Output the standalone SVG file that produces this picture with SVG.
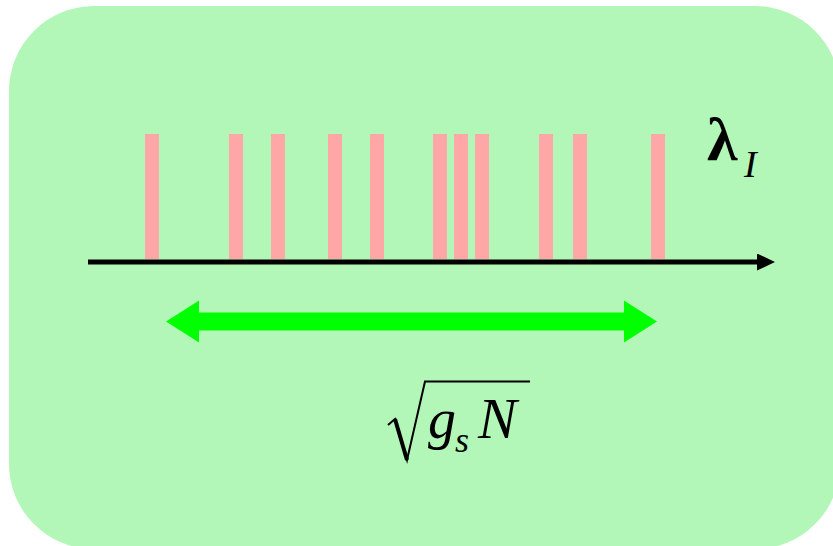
<svg xmlns="http://www.w3.org/2000/svg" width="833" height="546" viewBox="0 0 833 546">
<style>
.bar{fill:#ffa6a6}
.m{font-family:'Liberation Serif','Times New Roman','DejaVu Serif',serif}
</style>
<defs>
<marker id="ah" viewBox="0 0 18 17" refX="0" refY="8.5" markerWidth="18" markerHeight="17" markerUnits="userSpaceOnUse" orient="auto">
<path d="M0,0 L18,8.5 L0,17 Z" fill="#000"/>
</marker>
</defs>
<rect id="panel" x="9" y="6" width="831" height="543" rx="85" ry="85" fill="#b3f7b8"/>
<g id="bars">
<rect class="bar" x="145" y="134" width="14" height="125"/>
<rect class="bar" x="229" y="134" width="14" height="125"/>
<rect class="bar" x="271" y="134" width="14" height="125"/>
<rect class="bar" x="328" y="134" width="14" height="125"/>
<rect class="bar" x="370" y="134" width="14" height="125"/>
<rect class="bar" x="433" y="134" width="14" height="125"/>
<rect class="bar" x="454" y="134" width="14" height="125"/>
<rect class="bar" x="475" y="134" width="14" height="125"/>
<rect class="bar" x="539" y="134" width="14" height="125"/>
<rect class="bar" x="573" y="134" width="14" height="125"/>
<rect class="bar" x="651" y="134" width="14" height="125"/>
</g>
<g id="connectors">
<line id="axis" x1="88" y1="262" x2="757" y2="262" stroke="#000" stroke-width="5" marker-end="url(#ah)"/>
<path id="range" d="M166,321.5 L199,300.5 L199,312.5 L624,312.5 L624,300.5 L657,321.5 L624,342.5 L624,330.5 L199,330.5 L199,342.5 Z" fill="#00ff00"/>
</g>
<g id="label-lambda">
<text class="m" x="707" y="160" font-size="62" font-weight="bold">λ</text>
<text class="m" x="744" y="177" font-size="38" font-style="italic">I</text>
</g>
<g id="label-sqrt">
<path d="M388,425 L395,419 L407,460 L425,381.5 L530,381.5" fill="none" stroke="#000" stroke-width="2"/>
<path d="M395,419 L407,460" stroke="#000" stroke-width="4"/>
<text class="m" x="428" y="438" font-size="56" font-style="italic">g</text>
<text class="m" x="455" y="452" font-size="36" font-style="italic">s</text>
<text class="m" x="478" y="438" font-size="58" font-style="italic">N</text>
</g>
</svg>
